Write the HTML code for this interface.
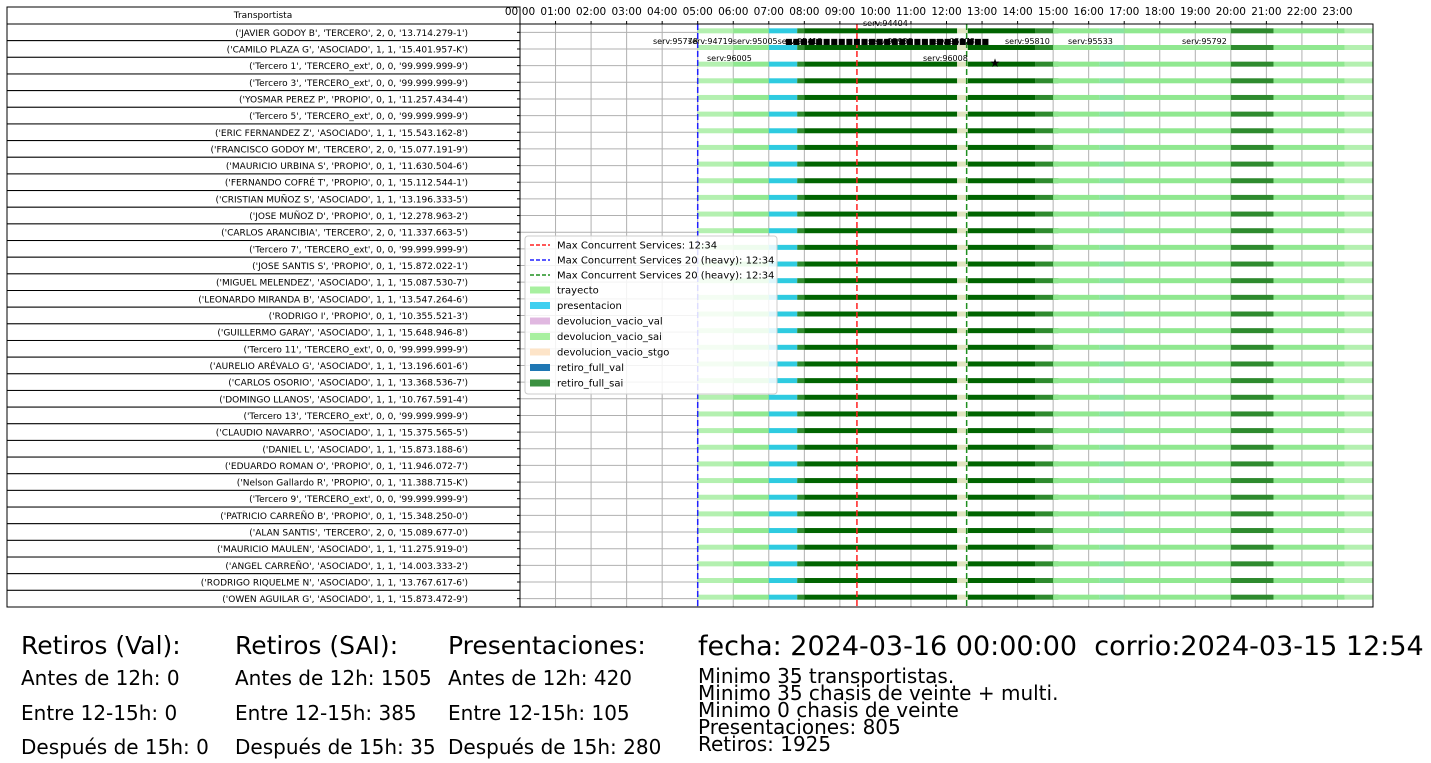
<!DOCTYPE html>
<html><head><meta charset="utf-8">
<style>
body{margin:0;width:1431px;height:763px;background:#fff;overflow:hidden;font-family:"DejaVu Sans","Liberation Sans",sans-serif;}
svg{position:absolute;left:0;top:0}
.t{position:absolute;white-space:nowrap;color:#000;line-height:1}
</style></head>
<body>
<svg id="chart" width="1431" height="763"></svg>
<div class="t" style="left:21px;top:633px;font-size:25px">Retiros (Val):</div>
<div class="t" style="left:21px;top:668px;font-size:20px">Antes de 12h: 0</div>
<div class="t" style="left:21px;top:703px;font-size:20px">Entre 12-15h: 0</div>
<div class="t" style="left:21px;top:737px;font-size:20px">Después de 15h: 0</div>
<div class="t" style="left:235px;top:633px;font-size:25px">Retiros (SAI):</div>
<div class="t" style="left:235px;top:668px;font-size:20px">Antes de 12h: 1505</div>
<div class="t" style="left:235px;top:703px;font-size:20px">Entre 12-15h: 385</div>
<div class="t" style="left:235px;top:737px;font-size:20px">Después de 15h: 35</div>
<div class="t" style="left:448px;top:633px;font-size:25px">Presentaciones:</div>
<div class="t" style="left:448px;top:668px;font-size:20px">Antes de 12h: 420</div>
<div class="t" style="left:448px;top:703px;font-size:20px">Entre 12-15h: 105</div>
<div class="t" style="left:448px;top:737px;font-size:20px">Después de 15h: 280</div>
<div class="t" style="left:698px;top:633px;font-size:27px">fecha: 2024-03-16 00:00:00&nbsp; corrio:2024-03-15 12:54</div>
<div class="t" style="left:698px;top:668px;font-size:20px;line-height:17px">Minimo 35 transportistas.<br>Minimo 35 chasis de veinte + multi.<br>Minimo 0 chasis de veinte<br>Presentaciones: 805<br>Retiros: 1925</div>
<script>
const transportistas=["('JAVIER GODOY B', 'TERCERO', 2, 0, '13.714.279-1')","('CAMILO PLAZA G', 'ASOCIADO', 1, 1, '15.401.957-K')","('Tercero 1', 'TERCERO_ext', 0, 0, '99.999.999-9')","('Tercero 3', 'TERCERO_ext', 0, 0, '99.999.999-9')","('YOSMAR PEREZ P', 'PROPIO', 0, 1, '11.257.434-4')","('Tercero 5', 'TERCERO_ext', 0, 0, '99.999.999-9')","('ERIC FERNANDEZ Z', 'ASOCIADO', 1, 1, '15.543.162-8')","('FRANCISCO GODOY M', 'TERCERO', 2, 0, '15.077.191-9')","('MAURICIO URBINA S', 'PROPIO', 0, 1, '11.630.504-6')","('FERNANDO COFRÉ T', 'PROPIO', 0, 1, '15.112.544-1')","('CRISTIAN MUÑOZ S', 'ASOCIADO', 1, 1, '13.196.333-5')","('JOSE MUÑOZ D', 'PROPIO', 0, 1, '12.278.963-2')","('CARLOS ARANCIBIA', 'TERCERO', 2, 0, '11.337.663-5')","('Tercero 7', 'TERCERO_ext', 0, 0, '99.999.999-9')","('JOSE SANTIS S', 'PROPIO', 0, 1, '15.872.022-1')","('MIGUEL MELENDEZ', 'ASOCIADO', 1, 1, '15.087.530-7')","('LEONARDO MIRANDA B', 'ASOCIADO', 1, 1, '13.547.264-6')","('RODRIGO  I', 'PROPIO', 0, 1, '10.355.521-3')","('GUILLERMO GARAY', 'ASOCIADO', 1, 1, '15.648.946-8')","('Tercero 11', 'TERCERO_ext', 0, 0, '99.999.999-9')","('AURELIO ARÉVALO G', 'ASOCIADO', 1, 1, '13.196.601-6')","('CARLOS OSORIO', 'ASOCIADO', 1, 1, '13.368.536-7')","('DOMINGO LLANOS', 'ASOCIADO', 1, 1, '10.767.591-4')","('Tercero 13', 'TERCERO_ext', 0, 0, '99.999.999-9')","('CLAUDIO NAVARRO', 'ASOCIADO', 1, 1, '15.375.565-5')","('DANIEL  L', 'ASOCIADO', 1, 1, '15.873.188-6')","('EDUARDO ROMAN O', 'PROPIO', 0, 1, '11.946.072-7')","('Nelson Gallardo R', 'PROPIO', 0, 1, '11.388.715-K')","('Tercero 9', 'TERCERO_ext', 0, 0, '99.999.999-9')","('PATRICIO CARREÑO B', 'PROPIO', 0, 1, '15.348.250-0')","('ALAN SANTIS', 'TERCERO', 2, 0, '15.089.677-0')","('MAURICIO MAULEN', 'ASOCIADO', 1, 1, '11.275.919-0')","('ANGEL CARREÑO', 'ASOCIADO', 1, 1, '14.003.333-2')","('RODRIGO RIQUELME N', 'ASOCIADO', 1, 1, '13.767.617-6')","('OWEN AGUILAR G', 'ASOCIADO', 1, 1, '15.873.472-9')"];
const segStart=[5.0,6.0,7.0,7.8,8.0,12.3,12.6,14.5,15.0,16.3,17.0,20.0,21.2,23.2];
const segEnd=[6.0,7.0,7.8,8.0,12.3,12.6,14.5,15.15,16.3,17.0,20.0,21.2,23.2,24.0];
const segType=["trayecto","trayecto2","presentacion","retiro_full_sai","retiro_dark","devolucion_vacio_stgo","retiro_dark","retiro_full_sai","trayecto2","trayecto3","trayecto2","retiro_full_sai","trayecto2","trayecto"];
const vlineHours=[9.48,5.0,12.567];
const vlineColors=["#ff2020","#2020ff","#209020"];
const hourTicks=["00:00","01:00","02:00","03:00","04:00","05:00","06:00","07:00","08:00","09:00","10:00","11:00","12:00","13:00","14:00","15:00","16:00","17:00","18:00","19:00","20:00","21:00","22:00","23:00"];
const colors={trayecto:"#b4f0b0",trayecto2:"#90e890",trayecto3:"#88e4a0",presentacion:"#2ecbe0",retiro_full_sai:"#2e8b2e",retiro_dark:"#006400",devolucion_vacio_stgo:"#e0e4c0"};
const svg=document.getElementById('chart');const NS="http://www.w3.org/2000/svg";
function mk(t,a,p){const e=document.createElementNS(NS,t);for(const k in a)e.setAttribute(k,a[k]);(p||svg).appendChild(e);return e;}
const X0=520,X1=1373,Y0=24,Y1=607,TX=7;
const xs=h=>X0+h*(X1-X0)/24;
const rh=(Y1-Y0)/transportistas.length;
const ys=i=>Y0+rh*(i+0.5);
let hdr=mk('rect',{x:TX,y:7,width:X0-TX,height:Y0-7,fill:'#fff',stroke:'#000'});

let ht=mk('text',{x:263,y:18,'font-size':9,'text-anchor':'middle'});ht.textContent='Transportista';

transportistas.forEach((n,i)=>{
 let r=mk('rect',{x:TX,y:Y0+rh*i,width:X0-TX,height:rh,fill:'#fff',stroke:'#000'});
 
 let t=mk('text',{x:468,y:ys(i)+3.5,'font-size':9,'text-anchor':'end'});t.textContent=n;
 
});
hourTicks.forEach((lab,i)=>{
 mk('line',{x1:xs(i),x2:xs(i),y1:Y0,y2:Y1,stroke:'#b0b0b0','stroke-width':1});
 mk('line',{x1:xs(i),x2:xs(i),y1:Y0-3,y2:Y0,stroke:'#000'});
 let t=mk('text',{x:xs(i),y:15,'font-size':10.5,'text-anchor':'middle'});t.textContent=lab;
 
});
transportistas.forEach((n,i)=>{
 mk('line',{x1:X0,x2:X1,y1:ys(i),y2:ys(i),stroke:'#b0b0b0'});
 mk('line',{x1:X0-3,x2:X0,y1:ys(i),y2:ys(i),stroke:'#000'});
});
transportistas.forEach((n,i)=>{
 segStart.forEach((s,j)=>{
  let b=mk('rect',{x:xs(s),y:ys(i)-4,width:xs(segEnd[j])-xs(s),height:5,fill:colors[segType[j]]});
  
  
 });
});
vlineHours.forEach((h,k)=>{
 let l=mk('line',{x1:xs(h),x2:xs(h),y1:Y0,y2:Y1,stroke:vlineColors[k],'stroke-width':1.5,'stroke-dasharray':'6,3'});
 
});
mk('rect',{x:X0,y:Y0,width:X1-X0,height:Y1-Y0,fill:'none',stroke:'#000'});
const ann=[[863,27,"serv:94404"],[653,45,"serv:95778"],[688,45,"serv:94719serv:95005serv:95412"],[785,45,"■■■■■■■■■■■■■■■■■■■■■■■■■■■"],[868,45,"serv:95938"],[930,45,"serv:95878"],[1005,45,"serv:95810"],[1068,45,"serv:95533"],[1182,45,"serv:95792"],[707,62,"serv:96005"],[923,62,"serv:96008"]];
ann.forEach(a=>{let t=mk('text',{x:a[0],y:a[1]-1,'font-size':8});t.textContent=a[2];
 });
let st=mk('text',{x:995,y:67,'font-size':12,'text-anchor':'middle'});st.textContent='★';

const g=mk('g',{});
mk('rect',{x:525,y:236,width:252,height:158,fill:'#fff','fill-opacity':0.85,stroke:'#ccc',rx:3},g);
const legLines=[["Max Concurrent Services: 12:34","#ff2020"],["Max Concurrent Services 20 (heavy): 12:34","#2020ff"],["Max Concurrent Services 20 (heavy): 12:34","#209020"]];
legLines.forEach((l,i)=>{const y=245+i*15;
 mk('line',{x1:530,x2:550,y1:y,y2:y,stroke:l[1],'stroke-width':1.5,'stroke-dasharray':'4,2'},g);
 let t=mk('text',{x:557,y:y+3.5,'font-size':10},g);t.textContent=l[0];
 });
const legPatches=[["trayecto","#a8f0a0"],["presentacion","#40d0f0"],["devolucion_vacio_val","#e0b8e0"],["devolucion_vacio_sai","#a8f0a0"],["devolucion_vacio_stgo","#fde4c8"],["retiro_full_val","#1f77b4"],["retiro_full_sai","#3a9040"]];
legPatches.forEach((l,i)=>{const y=290+i*15.5;
 mk('rect',{x:530,y:y-3.5,width:20,height:7,fill:l[1]},g);
 let t=mk('text',{x:557,y:y+3.5,'font-size':10},g);t.textContent=l[0];
 });
</script>
</body></html>
